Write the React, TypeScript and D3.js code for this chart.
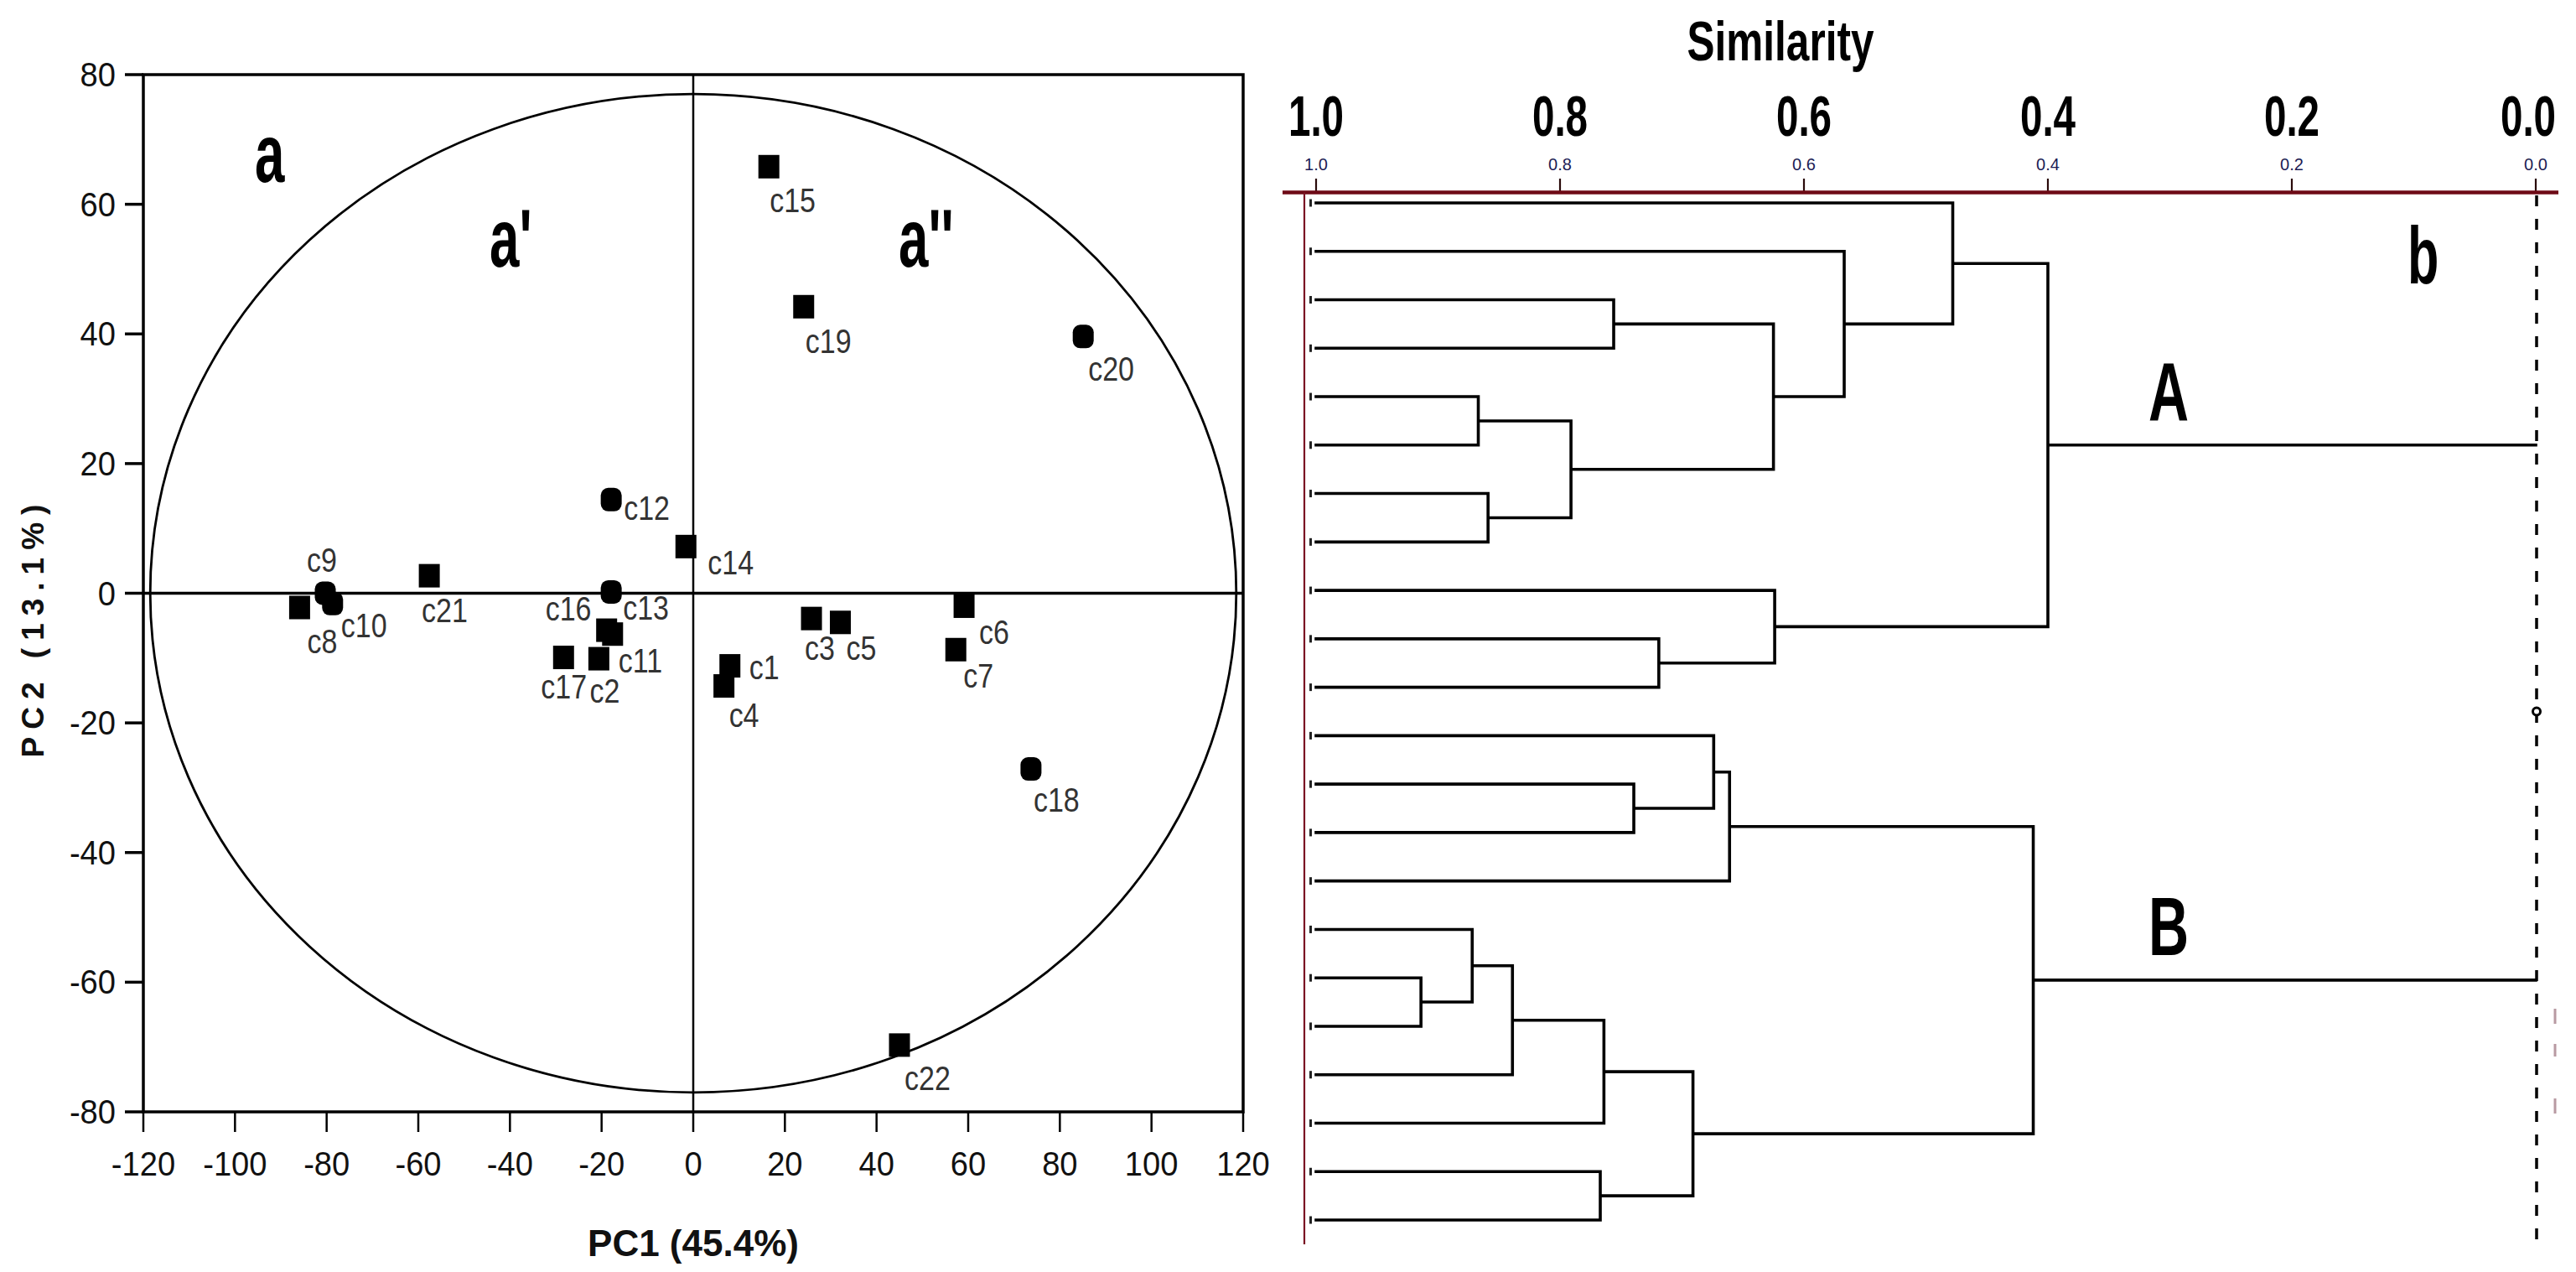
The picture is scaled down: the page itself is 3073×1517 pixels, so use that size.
import React from 'react';
import * as d3 from 'd3';

const W = 3073;
const H = 1517;
const SANS = '"Liberation Sans", Arial, Helvetica, sans-serif';

// ---------- PCA data ----------
const sampleNames = ['c1','c2','c3','c4','c5','c6','c7','c8','c9','c10','c11','c12','c13','c14','c15','c16','c17','c18','c19','c20','c21','c22'];
const pc1Scores = [8.0, -20.6, 25.8, 6.7, 32.1, 59.1, 57.3, -85.9, -80.3, -78.7, -17.6, -17.9, -17.9, -1.6, 16.5, -18.9, -28.3, 73.7, 24.1, 85.1, -57.6, 45.0];
const pc2Scores = [-11.2, -10.1, -3.9, -14.3, -4.5, -2.0, -8.7, -2.2, 0.0, -1.6, -6.3, 14.45, 0.2, 7.2, 65.8, -5.7, -9.9, -27.1, 44.2, 39.6, 2.7, -69.7];
const roundedMarkers = ['c9', 'c10', 'c12', 'c20', 'c18', 'c13'];
const xTickValues = [-120, -100, -80, -60, -40, -20, 0, 20, 40, 60, 80, 100, 120];
const yTickValues = [-80, -60, -40, -20, 0, 20, 40, 60, 80];
const ellipseSemiAxes = [118.5, 77];
const pc1Title = 'PC1 (45.4%)';
const pc2Title = 'PC2 (13.1%)';

// label placement (px offsets from marker centre: start x, baseline y)
const labelOffsets: Record<string, [number, number]> = {
  c1: [23, 16], c2: [-11, 52], c3: [-8, 49], c4: [6, 49], c5: [7, 45], c6: [18, 45],
  c7: [9, 45], c8: [9, 54], c9: [-22, -26], c10: [10, 40], c11: [7, 46], c12: [15, 24],
  c13: [14, 33], c14: [26, 33], c15: [1, 54], c16: [-73, -12], c17: [-27, 49], c18: [3, 51],
  c19: [2, 55], c20: [6, 53], c21: [-9, 55], c22: [6, 54],
};

// ---------- Dendrogram data ----------
const leafCount = 22;
// [child1, child2, similarity]; numbers = leaf order index, 'm#' = earlier merge
const mergeSteps: [number | string, number | string, number][] = [
  [4, 5, 0.867],        // m0
  [6, 7, 0.859],        // m1
  ['m0', 'm1', 0.791],  // m2
  [2, 3, 0.756],        // m3
  ['m3', 'm2', 0.625],  // m4
  [1, 'm4', 0.567],     // m5
  [0, 'm5', 0.478],     // m6
  [9, 10, 0.719],       // m7
  [8, 'm7', 0.624],     // m8
  ['m6', 'm8', 0.400],  // m9  -> A
  [12, 13, 0.7395],     // m10
  [11, 'm10', 0.674],   // m11
  ['m11', 14, 0.661],   // m12
  [16, 17, 0.914],      // m13
  [15, 'm13', 0.872],   // m14
  ['m14', 18, 0.839],   // m15
  ['m15', 19, 0.764],   // m16
  [20, 21, 0.767],      // m17
  ['m16', 'm17', 0.691],// m18
  ['m12', 'm18', 0.412],// m19 -> B
];
const clusterLabels = ['A', 'B'];
const clusterNodeIds = ['m9', 'm19'];
const simTicks = [1.0, 0.8, 0.6, 0.4, 0.2, 0.0];
const simTitle = 'Similarity';

function SText(props: any) {
  const { x, y, sx = 1, anchor = 'start', size, weight = 'normal', fill = '#000', family = SANS, ls, children } = props;
  return (
    <text
      transform={`translate(${x},${y}) scale(${sx},1)`}
      textAnchor={anchor}
      fontSize={size}
      fontWeight={weight}
      fontFamily={family}
      fill={fill}
      letterSpacing={ls}
    >
      {children}
    </text>
  );
}

export default function App() {
  // ---------- scatter scales ----------
  const xs = d3.scaleLinear().domain([-120, 120]).range([171, 1483]);
  const ys = d3.scaleLinear().domain([-80, 80]).range([1326, 89]);
  const x0 = xs(0);
  const y0 = ys(0);
  const mw = 25, mh = 28;

  // ---------- dendrogram scales ----------
  const simX = d3.scaleLinear().domain([1, 0]).range([1570, 3025]);
  const leafY = d3.scaleLinear().domain([0, leafCount - 1]).range([242, 1455]);
  const nodes: Record<string, { x: number; y: number }> = {};
  const get = (c: number | string) => (typeof c === 'number' ? { x: simX(1), y: leafY(c) } : nodes[c]);
  const p = d3.path();
  mergeSteps.forEach(([a, b, s], i) => {
    const na = get(a);
    const nb = get(b);
    const x = simX(s);
    p.moveTo(na.x, na.y); p.lineTo(x, na.y);
    p.moveTo(nb.x, nb.y); p.lineTo(x, nb.y);
    p.moveTo(x, na.y); p.lineTo(x, nb.y);
    nodes['m' + i] = { x, y: (na.y + nb.y) / 2 };
  });
  clusterNodeIds.forEach((k) => {
    p.moveTo(nodes[k].x, nodes[k].y);
    p.lineTo(simX(0), nodes[k].y);
  });
  const axisY = 229.5;
  const leafIdx = d3.range(leafCount);

  return (
    <svg width={W} height={H} viewBox={`0 0 ${W} ${H}`} style={{ position: 'absolute', left: 0, top: 0, display: 'block', background: '#fff' }}>
      <rect x={0} y={0} width={W} height={H} fill="#fff" />

      {/* ===== Panel a: PCA ===== */}
      <g>
        {/* ellipse */}
        <ellipse cx={x0} cy={y0} rx={xs(ellipseSemiAxes[0]) - x0} ry={y0 - ys(ellipseSemiAxes[1])} fill="none" stroke="#000" strokeWidth={2.8} />
        {/* zero lines */}
        <line x1={x0} y1={ys(80)} x2={x0} y2={ys(-80)} stroke="#000" strokeWidth={2.5} />
        <line x1={xs(-120)} y1={y0} x2={xs(120)} y2={y0} stroke="#000" strokeWidth={3.5} />
        {/* frame */}
        <rect x={xs(-120)} y={ys(80)} width={xs(120) - xs(-120)} height={ys(-80) - ys(80)} fill="none" stroke="#000" strokeWidth={3.5} />
        {/* y ticks */}
        {yTickValues.map((v) => (
          <g key={'yt' + v}>
            <line x1={xs(-120) - 22} x2={xs(-120)} y1={ys(v)} y2={ys(v)} stroke="#000" strokeWidth={3.5} />
            <SText x={138} y={ys(v) + 14} anchor="end" size={41} sx={0.93} fill="#111">{String(v)}</SText>
          </g>
        ))}
        {/* x ticks */}
        {xTickValues.map((v) => (
          <g key={'xt' + v}>
            <line x1={xs(v)} x2={xs(v)} y1={ys(-80)} y2={ys(-80) + 24} stroke="#000" strokeWidth={2.5} />
            <SText x={xs(v)} y={1402} anchor="middle" size={41} sx={0.93} fill="#111">{String(v)}</SText>
          </g>
        ))}
        {/* axis titles */}
        <text x={x0} y={1498} textAnchor="middle" fontFamily={SANS} fontWeight="bold" fontSize={44} fill="#111">{pc1Title}</text>
        <text transform={`translate(52,748) rotate(-90)`} textAnchor="middle" fontFamily={SANS} fontWeight="bold" fontSize={37} letterSpacing={9} fill="#111">{pc2Title}</text>

        {/* markers */}
        {sampleNames.map((n, i) => {
          const cx = xs(pc1Scores[i]);
          const cy = ys(pc2Scores[i]);
          const r = roundedMarkers.includes(n) ? 9 : 0;
          return <rect key={'m' + n} x={cx - mw / 2} y={cy - mh / 2} width={mw} height={mh} rx={r} ry={r} fill="#000" />;
        })}
        {sampleNames.map((n, i) => {
          const cx = xs(pc1Scores[i]);
          const cy = ys(pc2Scores[i]);
          const off = labelOffsets[n];
          return (
            <SText key={'l' + n} x={cx + off[0]} y={cy + off[1]} size={40} sx={0.85} fill="#333">{n}</SText>
          );
        })}

        {/* group labels */}
        <SText x={304} y={217} size={98} weight="bold" sx={0.65}>a</SText>
        <SText x={584} y={318} size={98} weight="bold" sx={0.65}>a'</SText>
        <SText x={1072} y={318} size={98} weight="bold" sx={0.65}>a''</SText>
      </g>

      {/* ===== Panel b: dendrogram ===== */}
      <g>
        <SText x={2124} y={72} anchor="middle" size={66} weight="bold" sx={0.75}>{simTitle}</SText>
        {simTicks.map((v) => (
          <g key={'st' + v}>
            <SText x={Math.min(simX(v), simX(0) - 9)} y={162} anchor="middle" size={68} weight="bold" sx={0.7}>{v.toFixed(1)}</SText>
            <SText x={simX(v)} y={203} anchor="middle" size={20} fill="#1c1c55">{v.toFixed(1)}</SText>
            <line x1={simX(v)} x2={simX(v)} y1={213} y2={axisY} stroke="#2a0a0a" strokeWidth={2.2} />
          </g>
        ))}
        {/* red axis */}
        <line x1={1530} x2={3052} y1={axisY} y2={axisY} stroke="#6e0a16" strokeWidth={4.5} />
        <line x1={simX(1) - 14} x2={simX(1) - 14} y1={axisY} y2={1484} stroke="#7a1424" strokeWidth={2.2} />
        {/* leaf ticks */}
        {leafIdx.map((i) => (
          <rect key={'lt' + i} x={simX(1) - 8} y={leafY(i) - 4.5} width={3} height={9} fill="#222" />
        ))}
        {/* tree */}
        <path d={p.toString()} fill="none" stroke="#000" strokeWidth={3.6} strokeLinecap="square" />
        {/* dashed reference at 0 */}
        <line x1={simX(0) + 1} x2={simX(0) + 1} y1={233} y2={1486} stroke="#000" strokeWidth={3.5} strokeDasharray="13 15" />
        <circle cx={simX(0) + 1} cy={(leafY(10) + leafY(11)) / 2} r={4.5} fill="#fff" stroke="#000" strokeWidth={3} />
        {[ [1203, 1221], [1245, 1260], [1310, 1328] ].map((d, i) => (
          <line key={'pk' + i} x1={simX(0) + 23} x2={simX(0) + 23} y1={d[0]} y2={d[1]} stroke="#b89aa2" strokeWidth={3} />
        ))}
        {/* cluster labels */}
        {clusterNodeIds.map((k, i) => (
          <SText key={'cl' + k} x={2563} y={nodes[k].y - 30} size={98} weight="bold" sx={0.68}>{clusterLabels[i]}</SText>
        ))}
        <SText x={2872} y={338} size={97} weight="bold" sx={0.63}>b</SText>
      </g>
    </svg>
  );
}
